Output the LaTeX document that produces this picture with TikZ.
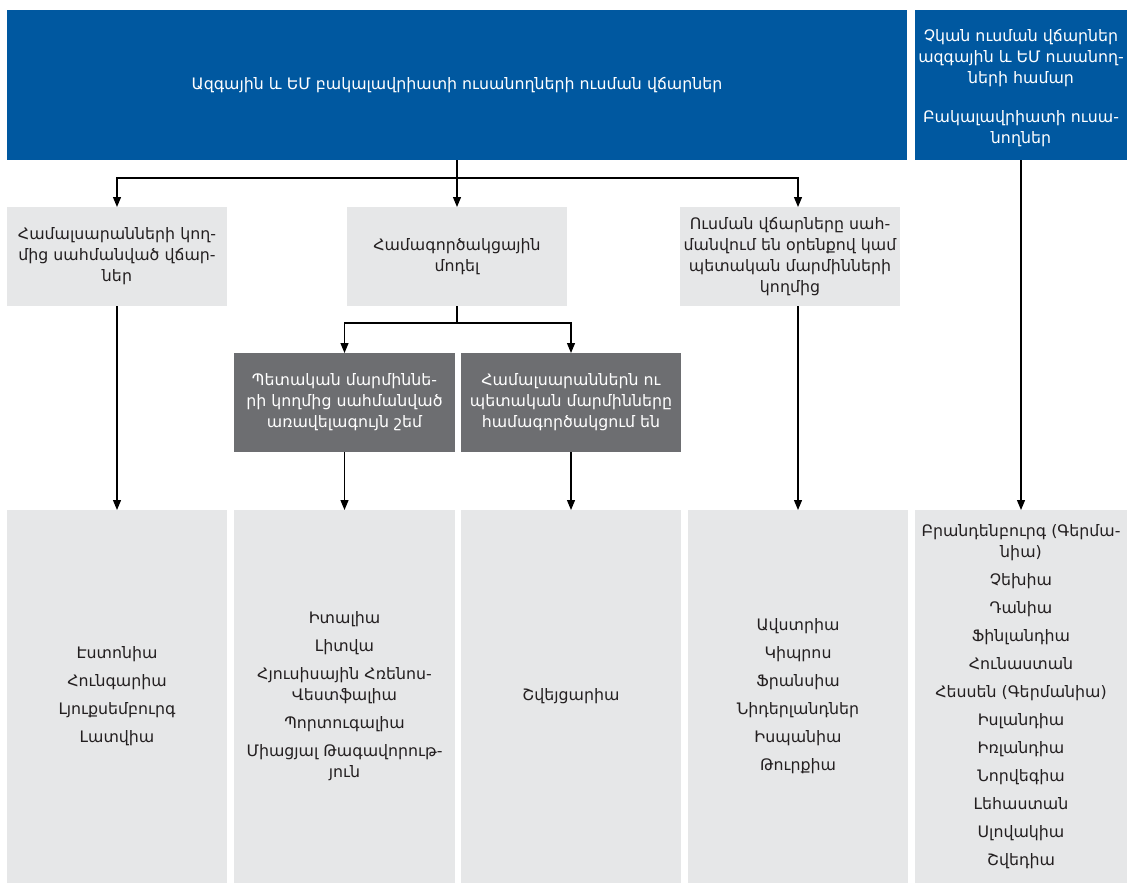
\documentclass[tikz,border=0pt]{standalone}
\usepackage{fontspec}
\setmainfont{DejaVu Sans}
\usetikzlibrary{arrows.meta}
\definecolor{euBlue}{HTML}{0058A0}
\definecolor{boxGray}{HTML}{E6E7E8}
\definecolor{boxDark}{HTML}{6D6E71}
\definecolor{txtDark}{HTML}{231F20}
\tikzset{
  base/.style={inner sep=0pt, outer sep=0pt, align=center,
    font=\fontsize{15.8}{21}\selectfont},
  blue box/.style={base, fill=euBlue, text=white},
  gray box/.style={base, fill=boxGray, text=txtDark},
  dark box/.style={base, fill=boxDark, text=white},
  arr/.style={-{Triangle[length=10pt,width=8pt]}, line width=1.2pt},
}
\begin{document}
\begin{tikzpicture}[x=1pt,y=-1pt]
\useasboundingbox (0,0) rectangle (1127,883);
% top row
\node[blue box, minimum width=900pt, minimum height=150pt] (top) at (457,85)
  {Ազգային և ԵՄ բակալավրիատի ուսանողների ուսման վճարներ};
\node[blue box, minimum width=212pt, minimum height=150pt] (rtop) at (1021,85) {};
\node[base, text=white, anchor=north] (rtoptxt) at (1021,29)
  {Չկան ուսման վճարներ\\ազգային և ԵՄ ուսանող-\\ների համար\\[18pt]Բակալավրիատի ուսա-\\նողներ};
% second row
\node[gray box, minimum width=220pt, minimum height=99pt] (g1) at (117,256.5)
  {Համալսարանների կող-\\մից սահմանված վճար-\\ներ};
\node[gray box, minimum width=220pt, minimum height=99pt] (g2) at (457,256.5)
  {Համագործակցային\\մոդել};
\node[gray box, minimum width=220pt, minimum height=99pt] (g3) at (790,256.5)
  {Ուսման վճարները սահ-\\մանվում են օրենքով կամ\\պետական մարմինների\\կողմից};
% third row
\node[dark box, minimum width=221pt, minimum height=99pt] (d1) at (344.5,402.5)
  {Պետական մարմիննե-\\րի կողմից սահմանված\\առավելագույն շեմ};
\node[dark box, minimum width=220pt, minimum height=99pt] (d2) at (571,402.5)
  {Համալսարաններն ու\\պետական մարմինները\\համագործակցում են};
% countries
\node[gray box, minimum width=220pt, minimum height=373pt] (b1) at (117,696.5)
  {Էստոնիա\\[7pt]Հունգարիա\\[7pt]Լյուքսեմբուրգ\\[7pt]Լատվիա};
\node[gray box, minimum width=221pt, minimum height=373pt] (b2) at (344.5,696.5)
  {Իտալիա\\[7pt]Լիտվա\\[7pt]Հյուսիսային Հռենոս-\\Վեստֆալիա\\[7pt]Պորտուգալիա\\[7pt]Միացյալ Թագավորութ-\\յուն};
\node[gray box, minimum width=220pt, minimum height=373pt] (b3) at (571,696.5)
  {Շվեյցարիա};
\node[gray box, minimum width=220pt, minimum height=373pt] (b4) at (798,696.5)
  {Ավստրիա\\[7pt]Կիպրոս\\[7pt]Ֆրանսիա\\[7pt]Նիդերլանդներ\\[7pt]Իսպանիա\\[7pt]Թուրքիա};
\node[gray box, minimum width=212pt, minimum height=373pt] (b5) at (1021,696.5)
  {Բրանդենբուրգ (Գերմա-\\նիա)\\[7pt]Չեխիա\\[7pt]Դանիա\\[7pt]Ֆինլանդիա\\[7pt]Հունաստան\\[7pt]Հեսսեն (Գերմանիա)\\[7pt]Իսլանդիա\\[7pt]Իռլանդիա\\[7pt]Նորվեգիա\\[7pt]Լեհաստան\\[7pt]Սլովակիա\\[7pt]Շվեդիա};
% connectors
\coordinate (j1) at (457,178);
\coordinate (j2) at (457,323);
\draw[arr] (top.south) -- (g2.north);
\draw[arr] (j1) -| (g1.north);
\draw[arr] (j1) -| (g3.north -| b4.north);
\draw[arr] (g1.south) -- (b1.north);
\draw[line width=1.2pt] (g2.south) -- (j2);
\draw[arr] (j2) -| (d1.north);
\draw[arr] (j2) -| (d2.north);
\draw[arr] (d1.south) -- (b2.north);
\draw[arr] (d2.south) -- (b3.north);
\draw[arr] (g3.south -| b4.north) -- (b4.north);
\draw[arr] (rtop.south) -- (b5.north);
\end{tikzpicture}
\end{document}
